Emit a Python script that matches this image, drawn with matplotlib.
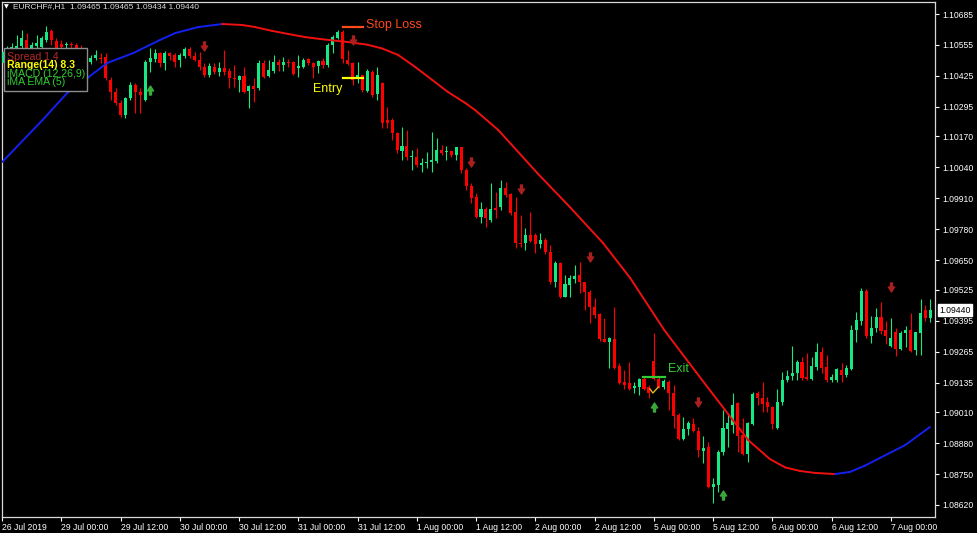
import numpy as np
import matplotlib.pyplot as plt
from matplotlib.path import Path
from matplotlib.patches import Rectangle
from matplotlib import font_manager

W, H, DPI = 977, 533, 100

# H1 bars, EURCHF#, 26 Jul 2019 12:00 -> 7 Aug 2019 08:00
opens = [
    1.10479, 1.10526, 1.10535, 1.10535, 1.10552, 1.10576, 1.10543, 1.10552, 1.10548, 1.10576,
    1.10614, 1.10571, 1.10559, 1.10556, 1.10556, 1.10556, 1.10543, 1.10526, 1.10483, 1.10501,
    1.10501, 1.10505, 1.10408, 1.10357, 1.10311, 1.10261, 1.10332, 1.10387, 1.10357, 1.10324,
    1.10483, 1.10496, 1.10522, 1.10479, 1.10522, 1.10513, 1.10492, 1.10509, 1.10539, 1.10509,
    1.10492, 1.10464, 1.10430, 1.10464, 1.10443, 1.10460, 1.10447, 1.10417, 1.10408, 1.10425,
    1.10361, 1.10383, 1.10374, 1.10479, 1.10425, 1.10447, 1.10483, 1.10471, 1.10483, 1.10483,
    1.10460, 1.10464, 1.10496, 1.10479, 1.10468, 1.10488, 1.10471, 1.10556, 1.10584, 1.10610,
    1.10492, 1.10479, 1.10417, 1.10430, 1.10361, 1.10443, 1.10349, 1.10395, 1.10240, 1.10240,
    1.10184, 1.10109, 1.10131, 1.10083, 1.10083, 1.10051, 1.10060, 1.10064, 1.10066, 1.10113,
    1.10105, 1.10109, 1.10092, 1.10126, 1.10030, 1.09963, 1.09916, 1.09832, 1.09865, 1.09819,
    1.09869, 1.09873, 1.09955, 1.09929, 1.09854, 1.09723, 1.09723, 1.09757, 1.09757, 1.09719,
    1.09736, 1.09685, 1.09559, 1.09638, 1.09495, 1.09546, 1.09572, 1.09587, 1.09559, 1.09516,
    1.09454, 1.09424, 1.09319, 1.09306, 1.09319, 1.09205, 1.09139, 1.09134, 1.09113, 1.09117,
    1.09151, 1.09117, 1.09226, 1.09151, 1.09117, 1.09139, 1.09091, 1.08999, 1.08897, 1.08940,
    1.08962, 1.08932, 1.08848, 1.08865, 1.08696, 1.08704, 1.08844, 1.08940, 1.08957, 1.09051,
    1.08914, 1.08835, 1.08962, 1.09089, 1.09068, 1.09055, 1.09033, 1.08944, 1.09055, 1.09147,
    1.09164, 1.09177, 1.09222, 1.09160, 1.09151, 1.09201, 1.09265, 1.09201, 1.09147, 1.09147,
    1.09188, 1.09168, 1.09192, 1.09357, 1.09392, 1.09521, 1.09332, 1.09366, 1.09411, 1.09357,
    1.09289, 1.09349, 1.09278, 1.09344, 1.09357, 1.09273, 1.09344, 1.09440, 1.09407,
]
highs = [
    1.10543, 1.10552, 1.10563, 1.10597, 1.10618, 1.10606, 1.10567, 1.10597, 1.10593, 1.10636,
    1.10623, 1.10584, 1.10576, 1.10567, 1.10567, 1.10563, 1.10556, 1.10535, 1.10513, 1.10535,
    1.10522, 1.10522, 1.10421, 1.10374, 1.10324, 1.10336, 1.10400, 1.10395, 1.10374, 1.10492,
    1.10543, 1.10539, 1.10526, 1.10531, 1.10526, 1.10522, 1.10522, 1.10548, 1.10548, 1.10526,
    1.10526, 1.10479, 1.10479, 1.10479, 1.10483, 1.10535, 1.10460, 1.10471, 1.10430, 1.10464,
    1.10387, 1.10417, 1.10492, 1.10492, 1.10492, 1.10513, 1.10496, 1.10505, 1.10496, 1.10488,
    1.10513, 1.10501, 1.10501, 1.10483, 1.10492, 1.10501, 1.10563, 1.10597, 1.10618, 1.10618,
    1.10535, 1.10483, 1.10483, 1.10430, 1.10455, 1.10451, 1.10464, 1.10400, 1.10294, 1.10249,
    1.10189, 1.10210, 1.10197, 1.10113, 1.10122, 1.10079, 1.10105, 1.10189, 1.10165, 1.10135,
    1.10131, 1.10113, 1.10126, 1.10126, 1.10038, 1.09976, 1.09933, 1.09895, 1.09873, 1.09974,
    1.09937, 1.09987, 1.09978, 1.09933, 1.09916, 1.09841, 1.09787, 1.09854, 1.09766, 1.09762,
    1.09744, 1.09714, 1.09647, 1.09643, 1.09587, 1.09587, 1.09630, 1.09643, 1.09559, 1.09525,
    1.09491, 1.09428, 1.09407, 1.09327, 1.09454, 1.09218, 1.09188, 1.09222, 1.09139, 1.09156,
    1.09160, 1.09126, 1.09344, 1.09160, 1.09151, 1.09147, 1.09126, 1.09008, 1.08991, 1.08974,
    1.08987, 1.08949, 1.08910, 1.08886, 1.08734, 1.08852, 1.09021, 1.09008, 1.09093, 1.09055,
    1.08987, 1.08970, 1.09096, 1.09100, 1.09139, 1.09076, 1.09038, 1.09106, 1.09179, 1.09188,
    1.09289, 1.09231, 1.09244, 1.09261, 1.09244, 1.09302, 1.09284, 1.09252, 1.09173, 1.09196,
    1.09218, 1.09209, 1.09379, 1.09433, 1.09534, 1.09530, 1.09415, 1.09450, 1.09475, 1.09392,
    1.09407, 1.09366, 1.09353, 1.09374, 1.09428, 1.09349, 1.09488, 1.09461, 1.09486,
]
lows = [
    1.10466, 1.10513, 1.10522, 1.10526, 1.10539, 1.10535, 1.10535, 1.10543, 1.10539, 1.10567,
    1.10556, 1.10513, 1.10526, 1.10543, 1.10543, 1.10531, 1.10509, 1.10492, 1.10475, 1.10492,
    1.10479, 1.10408, 1.10324, 1.10302, 1.10253, 1.10249, 1.10324, 1.10268, 1.10268, 1.10319,
    1.10443, 1.10483, 1.10464, 1.10451, 1.10492, 1.10464, 1.10464, 1.10501, 1.10501, 1.10488,
    1.10451, 1.10421, 1.10421, 1.10434, 1.10425, 1.10430, 1.10374, 1.10378, 1.10357, 1.10353,
    1.10289, 1.10315, 1.10365, 1.10417, 1.10421, 1.10438, 1.10447, 1.10447, 1.10464, 1.10430,
    1.10421, 1.10460, 1.10471, 1.10417, 1.10438, 1.10460, 1.10464, 1.10522, 1.10580, 1.10479,
    1.10471, 1.10387, 1.10395, 1.10357, 1.10357, 1.10336, 1.10324, 1.10206, 1.10206, 1.10156,
    1.10101, 1.10071, 1.10071, 1.10030, 1.10043, 1.10021, 1.10038, 1.10021, 1.10060, 1.10092,
    1.10071, 1.10083, 1.10071, 1.10017, 1.09946, 1.09890, 1.09828, 1.09807, 1.09790, 1.09811,
    1.09828, 1.09862, 1.09916, 1.09841, 1.09702, 1.09706, 1.09693, 1.09727, 1.09681, 1.09702,
    1.09677, 1.09550, 1.09538, 1.09491, 1.09495, 1.09495, 1.09555, 1.09512, 1.09441, 1.09385,
    1.09407, 1.09310, 1.09306, 1.09196, 1.09192, 1.09130, 1.09109, 1.09104, 1.09091, 1.09083,
    1.09104, 1.09072, 1.09147, 1.09113, 1.09109, 1.09021, 1.08944, 1.08893, 1.08893, 1.08914,
    1.08927, 1.08822, 1.08796, 1.08691, 1.08629, 1.08676, 1.08831, 1.08865, 1.08923, 1.08844,
    1.08831, 1.08801, 1.08957, 1.09042, 1.09012, 1.09012, 1.08940, 1.08940, 1.09042, 1.09139,
    1.09147, 1.09147, 1.09147, 1.09147, 1.09147, 1.09188, 1.09177, 1.09139, 1.09139, 1.09139,
    1.09139, 1.09160, 1.09188, 1.09306, 1.09379, 1.09323, 1.09302, 1.09349, 1.09340, 1.09297,
    1.09284, 1.09248, 1.09273, 1.09284, 1.09265, 1.09252, 1.09252, 1.09394, 1.09390,
]
closes = [
    1.10526, 1.10535, 1.10548, 1.10552, 1.10584, 1.10543, 1.10556, 1.10563, 1.10584, 1.10610,
    1.10576, 1.10543, 1.10548, 1.10558, 1.10554, 1.10543, 1.10526, 1.10505, 1.10501, 1.10513,
    1.10496, 1.10417, 1.10357, 1.10311, 1.10261, 1.10332, 1.10387, 1.10357, 1.10345, 1.10483,
    1.10501, 1.10522, 1.10479, 1.10522, 1.10509, 1.10483, 1.10513, 1.10539, 1.10509, 1.10492,
    1.10464, 1.10430, 1.10468, 1.10443, 1.10460, 1.10443, 1.10417, 1.10413, 1.10425, 1.10357,
    1.10383, 1.10370, 1.10479, 1.10421, 1.10451, 1.10483, 1.10471, 1.10483, 1.10479, 1.10434,
    1.10468, 1.10492, 1.10479, 1.10464, 1.10488, 1.10471, 1.10556, 1.10589, 1.10610, 1.10496,
    1.10475, 1.10408, 1.10430, 1.10365, 1.10447, 1.10345, 1.10430, 1.10227, 1.10227, 1.10184,
    1.10113, 1.10131, 1.10083, 1.10088, 1.10051, 1.10060, 1.10064, 1.10071, 1.10113, 1.10101,
    1.10109, 1.10092, 1.10126, 1.10030, 1.09963, 1.09912, 1.09832, 1.09865, 1.09828, 1.09865,
    1.09862, 1.09955, 1.09925, 1.09850, 1.09723, 1.09719, 1.09757, 1.09732, 1.09719, 1.09736,
    1.09685, 1.09559, 1.09638, 1.09495, 1.09550, 1.09576, 1.09583, 1.09559, 1.09516, 1.09454,
    1.09420, 1.09319, 1.09306, 1.09323, 1.09196, 1.09134, 1.09126, 1.09109, 1.09121, 1.09151,
    1.09109, 1.09091, 1.09151, 1.09117, 1.09143, 1.09091, 1.08995, 1.08897, 1.08940, 1.08966,
    1.08932, 1.08852, 1.08861, 1.08696, 1.08708, 1.08844, 1.08944, 1.08966, 1.09042, 1.08910,
    1.08835, 1.08966, 1.09085, 1.09068, 1.09046, 1.09033, 1.08962, 1.09055, 1.09147, 1.09164,
    1.09177, 1.09222, 1.09156, 1.09151, 1.09205, 1.09265, 1.09196, 1.09147, 1.09160, 1.09192,
    1.09168, 1.09196, 1.09357, 1.09396, 1.09521, 1.09332, 1.09366, 1.09411, 1.09353, 1.09332,
    1.09323, 1.09278, 1.09344, 1.09357, 1.09269, 1.09349, 1.09428, 1.09407, 1.09440,
]

# moving average line, sampled (bar position, price)
ma_x = [0.06, 8.2, 13.2, 17.3, 21.3, 26.6, 32.0, 35.1, 39.7, 44.6, 48.6, 51.3, 54.7,
        58.0, 61.4, 64.4, 70.1, 74.0, 77.0, 80.2, 83.7, 87.1, 90.3, 93.8, 95.8, 100.5,
        108.4, 115.0, 121.7, 127.2, 134.1, 140.5, 146.4, 151.1, 155.5, 158.6, 161.6,
        164.6, 168.7, 171.7, 174.8, 177.8, 182.9, 187.9]
ma_y = [1.10063, 1.10239, 1.10353, 1.10416, 1.10479, 1.10521, 1.10576, 1.10605, 1.10630,
        1.10643, 1.10639, 1.10630, 1.10614, 1.10601, 1.10588, 1.10580, 1.10567, 1.10556,
        1.10540, 1.10513, 1.10462, 1.10408, 1.10357, 1.10311, 1.10281, 1.10197, 1.10016,
        1.09873, 1.09722, 1.09575, 1.09356, 1.09180, 1.09020, 1.08893, 1.08813, 1.08778,
        1.08763, 1.08755, 1.08750, 1.08759, 1.08786, 1.08818, 1.08872, 1.08948]

sell_x = [41, 71, 95, 105, 119, 141, 180]
sell_y = [1.10551, 1.10576, 1.10063, 1.09949, 1.09663, 1.09053, 1.09537]
buy_x = [30, 132, 146]
buy_y = [1.10366, 1.09032, 1.08662]

price_ticks = [1.10685, 1.10555, 1.10425, 1.10295, 1.10170, 1.10040, 1.09910, 1.09780,
               1.09650, 1.09525, 1.09395, 1.09265, 1.09135, 1.09010, 1.08880, 1.08750,
               1.08620]
date_ticks = [0, 12, 24, 36, 48, 60, 72, 84, 96, 108, 120, 132, 144, 156, 168, 180]
date_labels = ["26 Jul 2019", "29 Jul 00:00", "29 Jul 12:00", "30 Jul 00:00",
               "30 Jul 12:00", "31 Jul 00:00", "31 Jul 12:00", "1 Aug 00:00",
               "1 Aug 12:00", "2 Aug 00:00", "2 Aug 12:00", "5 Aug 00:00",
               "5 Aug 12:00", "6 Aug 00:00", "6 Aug 12:00", "7 Aug 00:00"]

header = "EURCHF#,H1  1.09465 1.09465 1.09434 1.09440"
last_price = 1.09440
info_lines = ["Spread 1.4", "Range(14) 8.3", "iMACD (12,26,9)", "iMA EMA (5)"]
info_colors = ["#b42828", "#ffff00", "#32cd32", "#32cd32"]

BULL = "#16e884"
BEAR = "#ff0000"

names = {f.name for f in font_manager.fontManager.ttflist}
plt.rcParams["font.family"] = ["Liberation Sans", "DejaVu Sans"]
narrow = "Liberation Sans Narrow" if "Liberation Sans Narrow" in names else "Liberation Sans"

fig = plt.figure(figsize=(W / DPI, H / DPI), dpi=DPI, facecolor="black")
ax = fig.add_axes([2 / W, 1 - 517 / H, 933 / W, 515 / H])
ax.set_facecolor("black")

# candles
o = np.array(opens)
c = np.array(closes)
hi = np.array(highs)
lo = np.array(lows)
x = np.arange(len(o))
col = np.where(c >= o, BULL, BEAR)
ax.vlines(x, np.minimum(lo, np.minimum(o, c)), np.maximum(hi, np.maximum(o, c)),
          colors=col, lw=0.8, zorder=2)
body = np.maximum(np.abs(c - o), 0.00003)
ax.bar(x, body, bottom=np.minimum(o, c), width=0.62, color=col, lw=0, zorder=3)

# moving average: blue while rising, red while falling
for i in range(len(ma_x) - 1):
    clr = "#1420f0" if ma_y[i + 1] >= ma_y[i] else "#f01010"
    ax.plot(ma_x[i:i + 2], ma_y[i:i + 2], color=clr, lw=1.4, zorder=4,
            solid_capstyle="round")

# signal arrows
down = Path([(-0.22, 1), (0.22, 1), (0.22, 0.1), (0.7, 0.1), (0, -1), (-0.7, 0.1),
             (-0.22, 0.1), (-0.22, 1)], closed=True)
up = Path([(-0.22, -1), (0.22, -1), (0.22, -0.1), (0.7, -0.1), (0, 1), (-0.7, -0.1),
           (-0.22, -0.1), (-0.22, -1)], closed=True)
ax.plot(sell_x, sell_y, ls="none", marker=down, ms=6.5, color="#a82020", zorder=5)
ax.plot(buy_x, buy_y, ls="none", marker=up, ms=6.5, color="#3aa83a", zorder=5)

# trade annotations
ax.plot([69.1, 73.1], [1.10630, 1.10630], color="#ff4a1c", lw=1.6, zorder=6)
ax.text(73.7, 1.10639, "Stop Loss", color="#ff4a1c", fontsize=9, va="center", ha="left")
ax.plot([69.1, 73.1], [1.10416, 1.10416], color="#ffff00", lw=1.6, zorder=6)
ax.text(68.9, 1.10370, "Entry", color="#ffff00", fontsize=9, va="center", ha="right")
ax.plot([129.8, 134.3], [1.09158, 1.09158], color="#32cd32", lw=1.6, zorder=6)
ax.text(134.9, 1.09192, "Exit", color="#32cd32", fontsize=9, va="center", ha="left")
ax.plot([131.2, 131.8, 132.9], [1.09108, 1.09091, 1.09116], color="#e0b820", lw=1, zorder=6)

# axes
ax.set_xlim(0.06, 188.93)
ax.set_ylim(1.085695, 1.107356)
ax.yaxis.tick_right()
ax.set_yticks(price_ticks)
ax.set_yticklabels([f"{p:.5f}" for p in price_ticks])
ax.tick_params(axis="y", colors="white", length=3, width=0.8, pad=2, labelsize=6.2)
ax.set_xticks(date_ticks)
ax.set_xticklabels(date_labels, ha="left", family=narrow)
ax.tick_params(axis="x", colors="white", length=3, width=0.8, pad=1.5, labelsize=6.2)
for s in ax.spines.values():
    s.set_color("#d8d8d8")
    s.set_linewidth(0.9)

# current price tag
ax.annotate(f"{last_price:.5f}", xy=(1.0, last_price), xycoords=("axes fraction", "data"),
            xytext=(3, 0), textcoords="offset points", va="center", ha="left",
            fontsize=6.2, color="black", annotation_clip=False, zorder=8,
            bbox=dict(boxstyle="square,pad=0.15", fc="white", ec="white"))

# header
fig.text(4 / W, 1 - 7 / H, "\u25bc", color="white", fontsize=4.5, va="center",
         family="DejaVu Sans")
fig.text(13 / W, 1 - 7 / H, header, color="#dcdcdc", fontsize=6, va="center")

# info panel
fig.add_artist(Rectangle((4 / W, 1 - 91 / H), 83 / W, 43 / H, transform=fig.transFigure,
                         fc="black", ec="#8c8c8c", lw=1, zorder=10))
for i, (txt, clr) in enumerate(zip(info_lines, info_colors)):
    fig.text(7 / W, 1 - (57 + 8.3 * i) / H, txt, color=clr, fontsize=7.6, va="center",
             zorder=11, weight="bold" if i == 1 else "normal")

fig.savefig("out.png", dpi=DPI, facecolor="black")
